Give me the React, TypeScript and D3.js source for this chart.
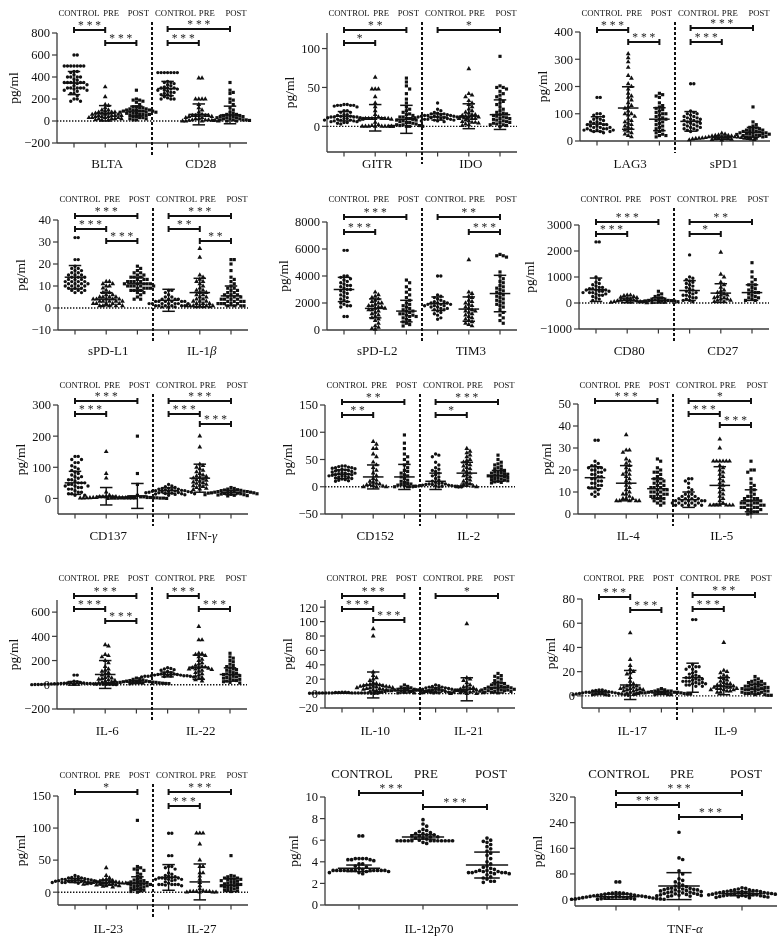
import React from 'react';
import * as d3 from 'd3';

const GROUPS = ['CONTROL', 'PRE', 'POST'];

// ---------- data: values per group [CONTROL, PRE, POST], stats [mean, sd], significance [from, to, stars]
const BLTA_VALUES = [
  [600,600,500,500,500,500,500,500,500,450,450,440,420,400,400,400,400,380,370,350,350,350,350,350,350,340,330,320,300,300,300,300,300,290,280,280,270,250,250,230,200,200,180,180],
  [310,220,150,140,120,100,100,90,80,80,80,70,70,70,60,60,60,50,50,50,50,40,40,40,30,30,30,30,20,20,20,20,10,10,10],
  [280,200,190,190,180,170,150,130,130,120,120,110,110,100,100,100,100,90,90,90,90,80,80,80,80,70,70,70,60,60,60,50,50,40,40,30,30,20,20,10,10],
];
const BLTA_STATS = [[345,105],[70,70],[90,45]];
const BLTA_SIG = [[0,1,'***'],[1,2,'***']];

const CD28_VALUES = [
  [440,440,440,440,440,440,440,360,350,350,340,330,320,310,300,300,300,290,290,280,280,270,260,260,250,240,240,230,220,210,200,200,200],
  [390,390,200,200,200,200,150,120,100,80,60,50,50,50,50,50,40,40,30,30,20,20,10,10,10,5,5,5,0,0,0,0],
  [350,280,260,250,200,190,170,150,120,100,80,70,60,60,50,50,50,40,40,40,30,30,30,20,20,20,10,10,10,10,5,5,0,0],
];
const CD28_STATS = [[295,65],[60,95],[55,80]];
const CD28_SIG = [[0,2,'***'],[0,1,'***']];

const GITR_VALUES = [
  [28,28,27,27,27,27,26,25,20,20,18,18,15,15,14,13,13,12,12,12,12,11,11,10,10,10,9,8,8,8,7,7,6,6,5,5,4,3],
  [63,48,48,48,38,30,25,20,15,12,10,10,10,10,10,10,10,9,9,8,5,2,1,0,0,0,0,0,0,0,0],
  [62,57,52,48,42,35,30,25,22,20,18,16,15,14,12,12,10,10,9,8,8,7,6,5,5,4,3,2,2,1,1,0,0,0,0,0],
];
const GITR_STATS = [[13,6],[11,17],[9,18]];
const GITR_SIG = [[0,2,'**'],[0,1,'*']];

const IDO_VALUES = [
  [30,22,20,18,17,16,16,15,15,14,14,14,13,13,13,12,12,12,12,11,11,11,11,10,10,10,10,9,9,9,8,8,7,7,6],
  [74,42,40,38,33,30,28,25,22,20,18,17,15,15,14,13,12,12,10,10,10,8,7,6,5,5,4,3,2,1],
  [90,52,50,50,48,45,42,40,38,35,32,30,28,25,22,20,18,17,16,15,14,13,12,11,10,10,9,8,7,6,5,5,4,3,2,2,1,0],
];
const IDO_STATS = [[12,4],[13,16],[15,19]];
const IDO_SIG = [[0,2,'*']];

const LAG3_VALUES = [
  [160,160,100,100,95,90,85,80,80,75,70,70,65,65,60,60,60,55,55,50,50,50,45,45,45,40,40,40,40,35,35,35,30],
  [320,305,290,270,240,230,210,200,190,175,165,160,150,140,130,125,120,110,100,100,95,90,80,75,70,65,60,55,50,45,40,35,30,25,20,15],
  [175,170,165,160,140,130,125,120,115,110,105,100,100,95,90,85,80,80,75,70,65,60,55,50,45,40,35,30,25,20,20,15],
];
const LAG3_STATS = [[62,27],[121,78],[80,42]];
const LAG3_SIG = [[0,1,'***'],[1,2,'***']];

const SPD1_VALUES = [
  [210,210,110,105,100,100,95,90,90,85,85,80,80,75,75,70,70,65,65,60,60,55,55,50,50,45,45,40,40,35],
  [28,25,22,20,20,18,18,15,15,15,14,13,12,12,11,10,10,10,9,9,8,8,7,7,6,5,5,4,3],
  [125,70,60,55,50,48,45,42,40,40,38,35,35,33,30,30,30,28,27,25,25,24,22,20,20,18,17,15,15,12,10],
];
const SPD1_STATS = [[72,36],[12,6],[32,18]];
const SPD1_SIG = [[0,2,'***'],[0,1,'***']];

const SPDL1_VALUES = [
  [32,32,22,22,19,18,18,17,17,16,16,15,15,15,14,14,14,13,13,13,12,12,12,12,11,11,11,11,10,10,10,10,9,9,9,8,8,8,7,7],
  [12,12,11,11,10,10,9,8,7,7,6,6,5,5,5,5,4,4,4,4,4,3,3,3,3,3,2,2,2,2,2,1,1,1,1,1],
  [19,18,17,16,16,15,15,14,14,14,13,13,13,12,12,12,12,11,11,11,11,11,10,10,10,10,10,9,9,9,9,8,8,8,7,7,6,5,4,4],
];
const SPDL1_STATS = [[14,5.3],[4,3],[11,3]];
const SPDL1_SIG = [[0,2,'***'],[0,1,'***'],[1,2,'***']];

const IL1B_VALUES = [
  [8,8,7,6,5,5,4,4,4,4,3,3,3,3,3,3,2,2,2,2,2,2,2,1,1,1,1,1,1,0.5,0.5,0.5],
  [27,23,15,14,13,12,12,11,10,9,8,8,7,7,6,6,5,5,4,4,3,3,3,2,2,2,1,1,1,1,1,1,0.5,0.5,0.5],
  [22,22,20,17,14,13,12,11,10,9,9,8,8,7,7,6,6,6,5,5,5,4,4,4,4,3,3,3,3,2,2,2,2,2,1,1,1,1],
];
const IL1B_STATS = [[3.5,5],[7,6.5],[5.5,4.5]];
const IL1B_SIG = [[0,2,'***'],[0,1,'**'],[1,2,'**']];

const SPDL2_VALUES = [
  [5900,5900,4000,4000,3900,3800,3700,3600,3500,3400,3300,3300,3200,3100,3000,3000,2900,2800,2700,2600,2500,2400,2300,2200,2100,2000,1900,1800,1800,1700,1000,1000],
  [2800,2600,2500,2400,2300,2200,2100,2000,2000,1900,1800,1800,1700,1700,1600,1600,1500,1500,1400,1300,1200,1100,1000,900,800,700,500,300,200,100,50],
  [3700,3500,3200,3000,2800,2600,2400,2200,2000,1900,1800,1700,1600,1500,1400,1400,1300,1200,1200,1100,1100,1000,1000,900,800,700,600,500,400,300],
];
const SPDL2_STATS = [[3000,900],[1600,700],[1400,800]];
const SPDL2_SIG = [[0,2,'***'],[0,1,'***']];

const TIM3_VALUES = [
  [4000,4000,2600,2500,2400,2300,2200,2100,2100,2000,2000,2000,1900,1900,1900,1800,1800,1800,1700,1700,1600,1600,1500,1500,1400,1300,1200,1100,900,800],
  [5200,2800,2700,2500,2400,2200,2100,2000,1900,1800,1700,1600,1500,1400,1400,1300,1200,1100,1000,900,800,700,600,500,400,300],
  [5600,5500,5500,5400,4300,4000,3800,3600,3500,3300,3200,3100,3000,2900,2800,2700,2600,2500,2400,2300,2200,2100,2000,1900,1800,1700,1500,1300,1100,900,700,500],
];
const TIM3_STATS = [[1950,500],[1550,900],[2700,1350]];
const TIM3_SIG = [[0,2,'**'],[1,2,'***']];

const CD80_VALUES = [
  [2350,2350,1000,900,800,750,700,650,600,600,550,550,500,500,500,450,450,450,400,400,400,350,350,300,300,250,200,150,100],
  [300,300,280,250,220,200,180,150,120,100,100,80,80,60,50,50,40,30,20,10],
  [450,350,300,250,200,180,150,150,120,100,100,90,80,80,70,60,50,50,40,30,20],
];
const CD80_STATS = [[510,450],[100,90],[100,100]];
const CD80_SIG = [[0,2,'***'],[0,1,'***']];

const CD27_VALUES = [
  [1850,1000,950,900,850,800,750,700,650,600,550,500,450,400,400,350,300,300,250,200,200,150,100,100,50],
  [1950,1100,1000,800,700,600,500,450,400,350,300,300,250,200,200,150,150,100,100,50,50],
  [1550,1200,1000,900,800,700,700,600,550,500,450,400,400,350,300,250,200,200,150,100,100],
];
const CD27_STATS = [[480,380],[380,360],[400,300]];
const CD27_SIG = [[0,2,'**'],[0,1,'*']];

const CD137_VALUES = [
  [135,135,125,125,115,115,105,100,95,90,85,80,75,70,70,65,60,60,55,50,50,50,45,45,40,40,40,35,35,30,30,25,20,20,15,15,10,10],
  [150,80,65,20,10,5,5,5,5,5,3,3,3,2,2,2,2,1,1,1,1,1],
  [200,80,45,10,5,5,5,5,3,3,3,2,2,2,2,1,1,1,1,1,0,0],
];
const CD137_STATS = [[50,37],[7,28],[8,40]];
const CD137_SIG = [[0,2,'***'],[0,1,'***']];

const IFNG_VALUES = [
  [45,40,38,35,33,32,30,30,28,27,26,25,25,24,23,22,22,21,20,20,19,18,18,17,16,15,15,14,13,12,10],
  [200,165,110,105,100,95,90,85,80,75,72,70,68,65,62,60,58,55,52,50,48,45,42,40,38,35,32,30,28],
  [35,32,30,28,27,26,25,24,23,22,22,21,20,20,19,18,18,17,17,16,15,15,14,13,12,12,11,10,9,8],
];
const IFNG_STATS = [[25,9],[65,45],[19,7]];
const IFNG_SIG = [[0,2,'***'],[0,1,'***'],[1,2,'***']];

const CD152_VALUES = [
  [38,38,37,36,35,35,34,33,32,31,30,30,29,28,27,26,25,25,24,23,22,22,21,20,20,19,18,17,16,15,14,13,12,11,10],
  [83,78,70,70,60,55,45,40,35,30,25,20,15,12,10,8,6,5,4,3,2,1,0,0,0],
  [95,80,70,60,55,50,45,40,35,30,28,25,22,20,18,15,12,10,8,6,5,4,3,2,1,0,0],
];
const CD152_STATS = [[23,8],[18,22],[18,23]];
const CD152_SIG = [[0,2,'**'],[0,1,'**']];

const IL2_VALUES = [
  [60,58,55,45,40,35,32,30,28,25,22,20,18,15,12,10,8,7,6,5,5,4,4,3,3,2,2,2,1,1,1,0,0,0,0,0],
  [70,65,62,58,55,50,48,45,42,40,38,35,33,30,28,25,22,20,18,15,12,10,8,5,3,2,1,0,0,0],
  [58,50,45,42,40,38,35,33,32,30,28,27,26,25,24,23,22,21,20,20,19,18,17,16,15,14,13,12,11,10,9,8,7],
];
const IL2_STATS = [[10,15],[25,20],[20,10]];
const IL2_SIG = [[0,2,'***'],[0,1,'*']];

const IL4_VALUES = [
  [33.5,33.5,24,23,22,22,21,21,21,20,20,20,19,19,18,18,17,17,16,16,15,15,14,14,13,13,12,12,12,11,10,9,9,8],
  [36,29,29,28,25,24,23,22,21,20,19,18,18,17,16,15,14,13,12,11,10,9,9,8,7,7,7,6,6,6,6,6],
  [25,24,21,20,19,19,18,17,16,16,15,15,14,14,13,13,12,12,12,11,11,11,10,10,10,9,9,9,8,8,8,7,7,6,6,5,5,4],
];
const IL4_STATS = [[16.5,5],[14,8],[11.5,4.5]];
const IL4_SIG = [[0,2,'***']];

const IL5_VALUES = [
  [16,16,15,14,12,11,10,9,9,8,8,8,7,7,7,7,6,6,6,6,6,6,5,5,5,5,5,4,4,4,4,4],
  [34,30,24,24,24,24,24,24,22,21,20,19,18,17,16,15,14,13,12,11,10,9,8,7,6,5,4,4,4,4,4,4,4],
  [24,20,20,19,16,14,13,12,11,10,9,8,8,7,7,7,6,6,6,5,5,5,5,4,4,4,4,3,3,3,3,2,2,2,1,1,0.5,0],
];
const IL5_STATS = [[6.5,3.5],[13,8.5],[6,5]];
const IL5_SIG = [[0,2,'*'],[0,1,'***'],[1,2,'***']];

const IL6_VALUES = [
  [80,80,30,25,20,20,15,15,12,10,10,10,8,8,8,6,6,5,5,5,4,4,3,3,3,2,2,2,1,1],
  [330,320,250,240,230,200,180,150,130,120,110,100,90,80,70,60,55,50,45,40,35,30,25,20,15,10,5,5],
  [55,50,45,40,35,32,30,28,26,25,24,22,20,20,18,17,16,15,14,13,12,11,10,10,9,8],
];
const IL6_STATS = [[12,15],[85,115],[22,12]];
const IL6_SIG = [[0,2,'***'],[0,1,'***'],[1,2,'***']];

const IL22_VALUES = [
  [140,135,130,125,120,110,100,95,90,90,85,85,80,80,80,75,75,75,72,70,70,70,68,65,65],
  [480,370,370,260,255,250,240,230,210,200,180,170,160,150,145,140,140,135,130,130,125,120,110,100,90,80,70,60,50,40,30],
  [260,230,220,200,190,170,160,150,140,130,125,120,110,100,95,90,85,80,75,70,65,60,55,50,45,40,35,30,25,20,15],
];
const IL22_STATS = [[85,20],[145,100],[85,55]];
const IL22_SIG = [[0,1,'***'],[1,2,'***']];

const IL10_VALUES = [
  [2,2,1.5,1.5,1.5,1,1,1,1,1,1,1,1,1,0.8,0.8,0.8,0.5,0.5,0.5,0.5,0.5],
  [90,80,30,25,22,20,18,15,14,13,12,12,11,11,10,10,10,9,9,8,8,8,7,7,6,6,5,5,4,3,2],
  [12,10,9,8,7,6,6,5,5,5,4,4,4,4,3,3,3,3,2,2,2,2,1,1,1,1],
];
const IL10_STATS = [[1,0.5],[12,18],[4,3]];
const IL10_SIG = [[0,2,'***'],[0,1,'***'],[1,2,'***']];

const IL21_VALUES = [
  [12,11,10,9,9,8,8,7,7,6,6,6,5,5,5,5,4,4,4,4,3,3,3,3,2,2,2,1,1,1],
  [97,22,20,18,15,12,10,9,8,7,6,5,5,4,4,3,3,2,2,1,1,0,0,0],
  [28,25,24,22,20,18,16,15,14,13,12,11,10,10,9,9,8,8,7,7,6,6,5,5,5,4,4,3,3,2,2,1],
];
const IL21_STATS = [[5,3],[6,16],[8,7]];
const IL21_SIG = [[0,2,'*']];

const IL17_VALUES = [
  [5,5,4.5,4,4,3.5,3,3,3,2.5,2.5,2,2,2,2,1.5,1.5,1.5,1,1,1,1,0.5,0.5],
  [52,30,25,22,20,19,18,15,12,10,9,8,8,7,7,6,6,6,5,5,5,4,4,3,3,2,2,1],
  [6,5,5,4,4,4,3.5,3,3,3,3,2.5,2.5,2.5,2,2,2,2,1.5,1.5,1.5,1,1,1],
];
const IL17_STATS = [[2.5,1.3],[9,12],[2.5,1.3]];
const IL17_SIG = [[0,1,'***'],[1,2,'***']];

const IL9_VALUES = [
  [63,63,26,24,24,24,22,22,20,19,18,17,16,16,15,15,14,14,13,13,12,12,12,11,11,10,10,10,9,9,8,8],
  [44,21,20,19,17,16,15,14,13,12,11,10,10,9,9,8,8,7,7,7,6,6,6,5,5,5,4,4,3,3],
  [16,14,13,12,12,11,11,10,10,9,9,8,8,8,7,7,7,6,6,6,5,5,5,4,4,4,3,3,3,2,2,2,1,1,0.5,0.5],
];
const IL9_STATS = [[15,12],[8,7],[5.5,4]];
const IL9_SIG = [[0,2,'***'],[0,1,'***']];

const IL23_VALUES = [
  [26,24,23,22,22,21,21,20,20,20,19,19,18,18,18,17,17,17,16,16,16,15,15,15,15,14,14,14],
  [38,26,22,20,19,18,17,17,16,16,15,15,15,14,14,14,14,13,13,13,12,12,12,11,11,10,10,9,8],
  [112,40,38,36,35,34,30,28,25,22,20,19,18,17,16,15,15,14,14,13,12,12,11,10,10,9,8,7,6,5,4,3,2,1,0],
];
const IL23_STATS = [[18,3],[15,4],[14,10]];
const IL23_SIG = [[0,2,'*']];

const IL27_VALUES = [
  [92,92,57,57,40,40,38,36,30,28,26,25,24,23,22,22,22,21,20,20,20,19,18,16,14,12,12,12,12,12,11,10],
  [92,92,92,75,50,40,40,30,30,25,20,15,10,5,2,1,1,1,1,1,0,0,0,0],
  [57,26,25,24,22,22,21,20,20,19,18,17,16,15,14,13,12,12,11,10,10,9,8,7,6,5,4,3,2,1],
];
const IL27_STATS = [[23,20],[16,28],[11,10]];
const IL27_SIG = [[0,2,'***'],[0,1,'***']];

const IL12P70_VALUES = [
  [6.4,6.4,4.3,4.3,4.3,4.3,4.2,4.2,4.2,4.1,3.8,3.8,3.6,3.5,3.4,3.3,3.2,3.2,3.2,3.2,3.2,3.2,3.2,3.2,3.2,3.2,3.2,3.2,3.1,3.1,3.0,3.0,2.9],
  [7.9,7.5,7.3,7.0,6.9,6.8,6.7,6.6,6.6,6.5,6.5,6.4,6.4,6.3,6.3,6.2,6.2,6.1,6.0,5.95,5.95,5.95,5.95,5.95,5.95,5.95,5.95,5.95,5.95,5.95,5.95,5.8,5.7],
  [6.2,6.0,5.9,5.8,5.6,5.4,5.2,5.0,4.8,4.6,4.3,4.0,3.8,3.6,3.5,3.4,3.3,3.2,3.2,3.1,3.1,3.1,3.0,3.0,3.0,3.0,3.0,2.9,2.9,2.8,2.6,2.5,2.4,2.2,2.2,2.1],
];
const IL12P70_STATS = [[3.4,0.3],[6.3,0.2],[3.7,1.2]];
const IL12P70_SIG = [[0,1,'***'],[1,2,'***']];

const TNFA_VALUES = [
  [55,55,22,21,20,20,19,18,17,16,15,14,13,12,12,11,10,10,9,9,8,8,8,7,7,6,6,5,5,4,4,3,3,2,2,2,1,1,1],
  [210,130,125,90,80,65,60,55,50,45,42,40,38,36,35,34,33,32,31,30,30,28,27,26,25,24,23,22,21,20,19,18,17,16,15,14,13,12,12,11,10],
  [37,35,33,30,30,28,28,27,26,25,25,24,23,22,22,21,20,20,19,18,18,17,17,16,16,15,15,14,13,12,12,11,10,10,9,8,7,6],
];
const TNFA_STATS = [[9,8],[42,42],[18,6]];
const TNFA_SIG = [[0,2,'***'],[0,1,'***'],[1,2,'***']];

// tick labels per panel
const TICKS_1 = [-200,0,200,400,600,800];
const TICKS_2 = [0,50,100];
const TICKS_3 = [0,100,200,300,400];
const TICKS_4 = [-10,0,10,20,30,40];
const TICKS_5 = [0,2000,4000,6000,8000];
const TICKS_6 = [-1000,0,1000,2000,3000];
const TICKS_7 = [0,100,200,300];
const TICKS_8 = [-50,0,50,100,150];
const TICKS_9 = [0,10,20,30,40,50];
const TICKS_10 = [-200,0,200,400,600];
const TICKS_11 = [-20,0,20,40,60,80,100,120];
const TICKS_12 = [0,20,40,60,80];
const TICKS_13 = [0,50,100,150];
const TICKS_14 = [0,2,4,6,8,10];
const TICKS_15 = [0,80,160,240,320];

// ---------- layout
type Mk = { name: string; values: number[][]; stats: number[][]; sig: any[][]; sigDy: number[] };
const mk = (name: string, values: number[][], stats: number[][], sig: any[][], sigDy: number[]): Mk => ({ name, values, stats, sig, sigDy });

const ROWS = [
  { labelY: 16, catY: 168 },
  { labelY: 202, catY: 355 },
  { labelY: 388, catY: 540 },
  { labelY: 581, catY: 735 },
  { labelY: 778, catY: 933 },
];

const PAD2 = [17, 173, 190];

type PanelDef = { row: number; x0: number; domain: number[]; px: number[]; ticks: number[]; pad: number[]; zero: boolean; markers: Mk[] };

const PANELS: PanelDef[] = [
  { row: 0, x0: 57, domain: [-200, 800], px: [143, 33], ticks: TICKS_1, pad: PAD2, zero: true,
    markers: [mk('BLTA', BLTA_VALUES, BLTA_STATS, BLTA_SIG, [14, 27]), mk('CD28', CD28_VALUES, CD28_STATS, CD28_SIG, [13, 27])] },
  { row: 0, x0: 327, domain: [-33, 120], px: [152, 33], ticks: TICKS_2, pad: PAD2, zero: true,
    markers: [mk('GITR', GITR_VALUES, GITR_STATS, GITR_SIG, [14, 27]), mk('IDO', IDO_VALUES, IDO_STATS, IDO_SIG, [14])] },
  { row: 0, x0: 580, domain: [0, 400], px: [141, 32], ticks: TICKS_3, pad: PAD2, zero: false,
    markers: [mk('LAG3', LAG3_VALUES, LAG3_STATS, LAG3_SIG, [14, 26]), mk('sPD1', SPD1_VALUES, SPD1_STATS, SPD1_SIG, [12, 26])] },
  { row: 1, x0: 58, domain: [-10, 40], px: [330, 220], ticks: TICKS_4, pad: PAD2, zero: true,
    markers: [mk('sPD-L1', SPDL1_VALUES, SPDL1_STATS, SPDL1_SIG, [14, 27, 39]), mk('IL-1β', IL1B_VALUES, IL1B_STATS, IL1B_SIG, [14, 27, 39])] },
  { row: 1, x0: 327, domain: [0, 8000], px: [330, 222], ticks: TICKS_5, pad: PAD2, zero: false,
    markers: [mk('sPD-L2', SPDL2_VALUES, SPDL2_STATS, SPDL2_SIG, [15, 30]), mk('TIM3', TIM3_VALUES, TIM3_STATS, TIM3_SIG, [15, 30])] },
  { row: 1, x0: 579, domain: [-1000, 3000], px: [329, 225], ticks: TICKS_6, pad: PAD2, zero: true,
    markers: [mk('CD80', CD80_VALUES, CD80_STATS, CD80_SIG, [20, 32]), mk('CD27', CD27_VALUES, CD27_STATS, CD27_SIG, [20, 32])] },
  { row: 2, x0: 58, domain: [-50, 300], px: [514, 405], ticks: TICKS_7, pad: PAD2, zero: false,
    markers: [mk('CD137', CD137_VALUES, CD137_STATS, CD137_SIG, [13, 26]), mk('IFN-γ', IFNG_VALUES, IFNG_STATS, IFNG_SIG, [13, 26, 36])] },
  { row: 2, x0: 325, domain: [-50, 150], px: [514, 405], ticks: TICKS_8, pad: PAD2, zero: true,
    markers: [mk('CD152', CD152_VALUES, CD152_STATS, CD152_SIG, [14, 27]), mk('IL-2', IL2_VALUES, IL2_STATS, IL2_SIG, [14, 27])] },
  { row: 2, x0: 578, domain: [0, 50], px: [514, 404], ticks: TICKS_9, pad: PAD2, zero: false,
    markers: [mk('IL-4', IL4_VALUES, IL4_STATS, IL4_SIG, [13]), mk('IL-5', IL5_VALUES, IL5_STATS, IL5_SIG, [13, 26, 37])] },
  { row: 3, x0: 57, domain: [-200, 700], px: [709, 600], ticks: TICKS_10, pad: PAD2, zero: true,
    markers: [mk('IL-6', IL6_VALUES, IL6_STATS, IL6_SIG, [15, 28, 40]), mk('IL-22', IL22_VALUES, IL22_STATS, IL22_SIG, [15, 28])] },
  { row: 3, x0: 325, domain: [-20, 130], px: [708, 600], ticks: TICKS_11, pad: PAD2, zero: true,
    markers: [mk('IL-10', IL10_VALUES, IL10_STATS, IL10_SIG, [15, 28, 39]), mk('IL-21', IL21_VALUES, IL21_STATS, IL21_SIG, [15])] },
  { row: 3, x0: 582, domain: [-10, 80], px: [708, 599], ticks: TICKS_12, pad: PAD2, zero: true,
    markers: [mk('IL-17', IL17_VALUES, IL17_STATS, IL17_SIG, [16, 29]), mk('IL-9', IL9_VALUES, IL9_STATS, IL9_SIG, [14, 28])] },
  { row: 4, x0: 58, domain: [-20, 150], px: [905, 796], ticks: TICKS_13, pad: PAD2, zero: true,
    markers: [mk('IL-23', IL23_VALUES, IL23_STATS, IL23_SIG, [14]), mk('IL-27', IL27_VALUES, IL27_STATS, IL27_SIG, [14, 28])] },
  { row: 4, x0: 325, domain: [0, 10], px: [905, 797], ticks: TICKS_14, pad: [34, 162, 193], zero: false,
    markers: [mk('IL-12p70', IL12P70_VALUES, IL12P70_STATS, IL12P70_SIG, [15, 29])] },
  { row: 4, x0: 575, domain: [-20, 320], px: [906, 797], ticks: TICKS_15, pad: [41, 167, 202], zero: false,
    markers: [mk('TNF-α', TNFA_VALUES, TNFA_STATS, TNFA_SIG, [15, 27, 39])] },
];

const FONT = "'Liberation Serif','Times New Roman',Times,serif";
const INK = '#111';
const AXIS = '#3a3a3a';
const fmt = d3.format('');

function swarm(vals: number[], y: (v: number) => number, cx: number, d: number) {
  const pts = vals.map((v) => y(v)).sort((a, b) => a - b);
  const placed: { x: number; y: number }[] = [];
  for (const py of pts) {
    for (let k = 0; k < 200; k++) {
      const off = k === 0 ? 0 : (k % 2 === 1 ? 1 : -1) * Math.ceil(k / 2) * d;
      const px = cx + off;
      const hit = placed.some((q) => (q.x - px) ** 2 + (q.y - py) ** 2 < d * d * 0.92);
      if (!hit) { placed.push({ x: px, y: py }); break; }
    }
  }
  return placed;
}

function GreekText(props: any) {
  const { text, ...rest } = props;
  const parts = String(text).split(/([α-ω])/).filter((s: string) => s.length > 0);
  return (
    <text {...rest}>
      {parts.map((s: string, i: number) =>
        /[α-ω]/.test(s) ? <tspan key={i} fontStyle="italic">{s}</tspan> : <tspan key={i}>{s}</tspan>
      )}
    </text>
  );
}

function Panel({ p }: { p: PanelDef }) {
  const row = ROWS[p.row];
  const y = d3.scaleLinear().domain(p.domain).range(p.px);
  const n = p.markers.length;
  const single = n === 1;
  const slots = d3.range(n * 3);
  const x = d3.scalePoint<number>().domain(slots).range([p.x0 + p.pad[0], p.x0 + p.pad[1]]);
  const right = p.x0 + p.pad[2];
  const step = (x(1) as number) - (x(0) as number);
  const yb = p.px[0];
  const yt = p.px[1];
  const maxChars = d3.max(p.ticks, (t) => fmt(t).length) || 3;
  const ylabX = p.x0 - 14 - 6.3 * maxChars;
  const r = single ? 1.85 : 1.7;
  const sp = single ? 3.7 : 3.25;
  const symCircle = d3.symbol().type(d3.symbolCircle).size(Math.PI * r * r)() as string;
  const symTri = d3.symbol().type(d3.symbolTriangle).size(single ? 12 : 10)() as string;
  const symSq = d3.symbol().type(d3.symbolSquare).size(single ? 11 : 10)() as string;
  const shapes = single ? [symCircle, symCircle, symCircle] : [symCircle, symTri, symSq];
  const meanHW = step * 0.33;
  const capHW = step * 0.2;
  const labelFont = single ? 13 : 8.7;
  const labelOff = single ? [3, 3, 4, 3, 3, 4] : [5, 6, 2, 8, 8, 6];

  return (
    <g>
      {p.zero && (
        <line x1={p.x0} x2={right} y1={y(0)} y2={y(0)} stroke={INK} strokeWidth={1.4} strokeDasharray="1.4 1.6" />
      )}
      <line x1={p.x0} x2={p.x0} y1={yb} y2={yt} stroke={AXIS} strokeWidth={1.3} />
      {p.ticks.map((t) => (
        <g key={t}>
          <line x1={p.x0 - 5} x2={p.x0} y1={y(t)} y2={y(t)} stroke={AXIS} strokeWidth={1.2} />
          <text x={p.x0 - 7} y={y(t)} dy="0.35em" textAnchor="end" fontSize={12.5} fill={INK}>{fmt(t)}</text>
        </g>
      ))}
      <line x1={p.x0} x2={right} y1={yb} y2={yb} stroke={AXIS} strokeWidth={1.3} />
      {slots.map((s) => (
        <line key={s} x1={x(s)} x2={x(s)} y1={yb} y2={yb + 4.5} stroke={AXIS} strokeWidth={1.2} />
      ))}
      <text transform={`translate(${ylabX},${(yb + yt) / 2}) rotate(-90)`} textAnchor="middle" fontSize={13.5} fill={INK}>pg/ml</text>
      {n === 2 && (
        <line x1={((x(2) as number) + (x(3) as number)) / 2} x2={((x(2) as number) + (x(3) as number)) / 2}
          y1={row.labelY + 6} y2={yb + 12} stroke={INK} strokeWidth={2} strokeDasharray="3 2" />
      )}
      {slots.map((s) => (
        <text key={'g' + s} x={(x(s) as number) + labelOff[s]} y={row.labelY} textAnchor="middle" fontSize={labelFont} fill={INK}>
          {GROUPS[s % 3]}
        </text>
      ))}
      {p.markers.map((m, mi) => (
        <g key={m.name}>
          {m.values.map((vals, gi) => {
            const cx = x(mi * 3 + gi) as number;
            const pts = swarm(vals, y, cx, sp);
            const [mean, sd] = m.stats[gi];
            return (
              <g key={gi}>
                {pts.map((q, k) => (
                  <path key={k} d={shapes[gi]} transform={`translate(${q.x},${q.y})`} fill={INK} />
                ))}
                <line x1={cx} x2={cx} y1={y(mean - sd)} y2={y(mean + sd)} stroke={INK} strokeWidth={1.4} />
                <line x1={cx - capHW} x2={cx + capHW} y1={y(mean + sd)} y2={y(mean + sd)} stroke={INK} strokeWidth={1.5} />
                <line x1={cx - capHW} x2={cx + capHW} y1={y(mean - sd)} y2={y(mean - sd)} stroke={INK} strokeWidth={1.5} />
                <line x1={cx - meanHW} x2={cx + meanHW} y1={y(mean)} y2={y(mean)} stroke={INK} strokeWidth={1.5} />
              </g>
            );
          })}
          {m.sig.map((b, bi) => {
            const xa = x(mi * 3 + (b[0] as number)) as number;
            const xb = x(mi * 3 + (b[1] as number)) as number;
            const yy = row.labelY + m.sigDy[bi];
            return (
              <g key={'b' + bi}>
                <line x1={xa} x2={xb} y1={yy} y2={yy} stroke={INK} strokeWidth={2} />
                <line x1={xa} x2={xa} y1={yy - 3} y2={yy + 3} stroke={INK} strokeWidth={2} />
                <line x1={xb} x2={xb} y1={yy - 3} y2={yy + 3} stroke={INK} strokeWidth={2} />
                <text x={(xa + xb) / 2} y={yy - 1.2} textAnchor="middle" fontSize={11.5} fill="#222">
                  {String(b[2]).split('').join(' ')}
                </text>
              </g>
            );
          })}
          <GreekText text={m.name} x={(x(mi * 3 + 1) as number) + (single ? 6 : 2)} y={row.catY}
            textAnchor="middle" fontSize={13} fill={INK} />
        </g>
      ))}
    </g>
  );
}

export default function App() {
  return (
    <svg width={784} height={944} viewBox="0 0 784 944"
      style={{ position: 'absolute', left: 0, top: 0, background: '#fff' }} fontFamily={FONT}>
      <defs>
        <filter id="gray" x="0" y="0" width="784" height="944" filterUnits="userSpaceOnUse">
          <feColorMatrix type="saturate" values="0" />
        </filter>
      </defs>
      <g filter="url(#gray)">
        <rect x={0} y={0} width={784} height={944} fill="#fff" />
        {PANELS.map((p, i) => <Panel key={i} p={p} />)}
      </g>
    </svg>
  );
}
